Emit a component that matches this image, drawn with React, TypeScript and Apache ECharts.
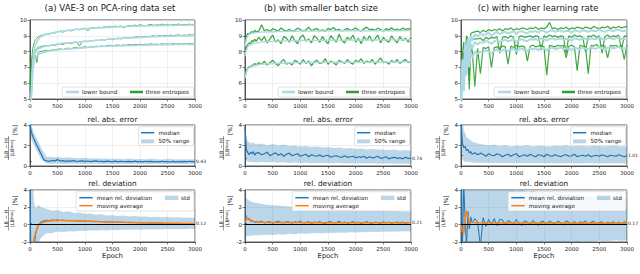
import React, { useEffect, useRef } from "react";
import * as echarts from "echarts";

// ---------- data ----------
const EP = [0, 25, 50, 75, 100, 125, 150, 175, 200, 250,
  300, 350, 400, 450, 500, 550, 600, 650, 700, 750,
  800, 850, 900, 950, 1000, 1050, 1100, 1150, 1200, 1250,
  1300, 1350, 1400, 1450, 1500, 1550, 1600, 1650, 1700, 1750,
  1800, 1850, 1900, 1950, 2000, 2050, 2100, 2150, 2200, 2250,
  2300, 2350, 2400, 2450, 2500, 2550, 2600, 2650, 2700, 2750,
  2800, 2850, 2900, 2950, 3000];
const EB = [0, 25, 50, 75, 100, 150, 200, 300, 400, 500,
  600, 700, 800, 900, 1000, 1100, 1200, 1300, 1400, 1500,
  1600, 1700, 1800, 1900, 2000, 2100, 2200, 2300, 2400, 2500,
  2600, 2700, 2800, 2900, 3000];
const ES = [0, 25, 50, 75, 100, 150, 200, 300, 500, 750, 1000, 1500, 2000, 2500, 3000];

// (a) three entropies
const A1 = [6.0, 7.4, 8.2, 8.55, 8.75, 8.85, 8.93, 8.97, 9.02, 9.06,
  9.12, 9.1, 9.2, 9.17, 9.26, 9.3, 9.22, 9.33, 9.36, 9.3,
  9.4, 9.42, 9.38, 9.45, 9.48, 9.3, 9.5, 9.52, 9.47, 9.55,
  9.5, 9.58, 9.55, 9.6, 9.57, 9.62, 9.58, 9.63, 9.5, 9.6,
  9.65, 9.62, 9.68, 9.64, 9.7, 9.66, 9.63, 9.69, 9.72, 9.66,
  9.7, 9.68, 9.74, 9.69, 9.71, 9.67, 9.73, 9.7, 9.75, 9.68,
  9.72, 9.7, 9.74, 9.69, 9.72];
const A2 = [5.8, 7.0, 7.7, 7.95, 8.1, 8.2, 8.28, 8.3, 8.33, 8.36,
  8.38, 8.35, 8.42, 8.4, 8.45, 8.5, 8.44, 8.52, 8.55, 8.5,
  8.58, 8.6, 8.35, 8.64, 8.66, 8.62, 8.7, 8.68, 8.73, 8.7,
  8.76, 8.72, 8.78, 8.8, 8.75, 8.82, 8.85, 8.8, 8.86, 8.88,
  8.9, 8.86, 8.92, 8.95, 8.9, 8.94, 8.97, 8.93, 8.98, 9.0,
  8.96, 9.02, 8.98, 9.03, 9.0, 9.05, 9.01, 9.04, 9.06, 9.02,
  9.05, 9.03, 9.07, 9.04, 9.06];
const A3 = [5.5, 6.7, 7.3, 7.55, 7.75, 7.3, 7.95, 8.0, 8.02, 8.05,
  8.08, 8.05, 8.12, 8.1, 8.15, 8.18, 8.12, 8.2, 8.22, 8.18,
  8.25, 8.27, 8.22, 8.28, 8.3, 8.26, 8.32, 8.3, 8.35, 8.32,
  8.36, 8.33, 8.38, 8.4, 8.36, 8.4, 8.42, 8.38, 8.43, 8.4,
  8.45, 8.42, 8.46, 8.44, 8.47, 8.43, 8.48, 8.45, 8.5, 8.46,
  8.48, 8.45, 8.5, 8.47, 8.49, 8.46, 8.51, 8.48, 8.5, 8.47,
  8.5, 8.48, 8.52, 8.49, 8.5];
// (a) lower bounds
const LA1 = [3.0, 5.5, 7.3, 8.0, 8.4, 8.75, 8.95, 9.1, 9.25, 9.36, 9.45, 9.55, 9.62, 9.66, 9.68];
const LA2 = [3.0, 5.3, 7.0, 7.7, 7.95, 8.15, 8.25, 8.35, 8.48, 8.57, 8.65, 8.8, 8.9, 8.97, 9.0];
const LA3 = [3.0, 5.0, 6.6, 7.3, 7.6, 7.8, 7.9, 8.0, 8.1, 8.18, 8.25, 8.35, 8.4, 8.44, 8.46];

// (b) three entropies
const B1 = [8.5, 8.95, 9.15, 9.1, 9.2, 9.28, 9.18, 9.35, 9.25, 9.3,
  9.7, 9.32, 9.4, 9.27, 9.45, 9.38, 9.3, 9.5, 9.36, 9.3,
  9.42, 9.28, 9.35, 9.48, 9.4, 9.3, 9.37, 9.55, 9.33, 9.4,
  9.45, 9.32, 9.38, 9.28, 9.46, 9.4, 9.52, 9.35, 9.42, 9.3,
  9.38, 9.47, 9.33, 9.4, 9.5, 9.36, 9.3, 9.44, 9.55, 9.38,
  9.42, 9.35, 9.48, 9.4, 9.3, 9.45, 9.38, 9.5, 9.36, 9.43,
  9.35, 9.48, 9.4, 9.45, 9.4];
const B2 = [7.8, 8.3, 8.45, 8.55, 8.5, 8.7, 8.6, 8.8, 8.65, 8.9,
  8.7, 8.95, 8.55, 8.8, 9.05, 8.6, 8.75, 8.5, 8.95, 8.85,
  8.6, 9.0, 8.7, 8.5, 8.9, 9.05, 8.65, 8.8, 8.55, 9.0,
  8.85, 8.6, 8.95, 8.7, 8.5, 9.0, 8.8, 8.6, 9.1, 8.7,
  8.55, 8.9, 8.75, 9.05, 8.6, 8.85, 8.5, 8.95, 8.7, 9.0,
  8.65, 8.8, 9.05, 8.55, 8.9, 8.7, 8.6, 9.0, 8.75, 8.55,
  8.95, 8.7, 8.85, 8.6, 8.9];
const B3 = [6.3, 6.8, 6.95, 7.05, 7.0, 7.15, 7.1, 7.25, 7.15, 7.3,
  7.2, 7.4, 7.15, 7.3, 7.45, 7.25, 7.1, 7.35, 7.5, 7.2,
  7.3, 7.15, 7.45, 7.35, 7.2, 7.5, 7.25, 7.4, 7.1, 7.35,
  7.45, 7.25, 7.3, 7.55, 7.2, 7.4, 7.3, 7.15, 7.45, 7.35,
  7.25, 7.5, 7.3, 7.2, 7.45, 7.35, 7.55, 7.25, 7.4, 7.3,
  7.5, 7.2, 7.4, 7.6, 7.3, 7.35, 7.2, 7.45, 7.3, 7.5,
  7.25, 7.4, 7.5, 7.3, 7.4];
// (b) lower bounds
const LB1 = [8.3, 8.8, 9.0, 9.08, 9.12, 9.17, 9.2, 9.23, 9.26, 9.28, 9.3, 9.31, 9.32, 9.32, 9.33];
const LB2 = [7.7, 8.1, 8.3, 8.38, 8.43, 8.5, 8.54, 8.6, 8.65, 8.68, 8.7, 8.72, 8.73, 8.74, 8.75];
const LB3 = [6.3, 6.7, 6.9, 6.98, 7.03, 7.1, 7.14, 7.2, 7.25, 7.28, 7.3, 7.32, 7.33, 7.34, 7.35];

// (c) three entropies
const C1 = [5.5, 7.8, 8.6, 7.6, 9.0, 8.8, 6.1, 9.1, 9.2, 9.25,
  9.3, 9.2, 9.35, 9.25, 9.4, 9.3, 9.4, 9.35, 9.45, 9.3,
  9.45, 9.4, 9.5, 9.35, 9.45, 9.4, 9.5, 9.45, 9.4, 9.5,
  9.45, 9.55, 9.4, 9.5, 9.45, 9.55, 9.85, 9.45, 9.5, 9.4,
  9.5, 9.45, 9.55, 9.4, 9.5, 9.45, 9.55, 9.5, 9.45, 9.55,
  9.5, 9.45, 9.6, 9.5, 9.45, 9.55, 9.5, 9.6, 9.45, 9.55,
  9.5, 9.6, 9.5, 9.55, 9.6];
const C2 = [5.2, 7.0, 7.9, 8.2, 8.45, 8.55, 8.6, 8.7, 8.75, 8.8,
  8.8, 8.85, 8.7, 8.9, 8.8, 8.9, 8.85, 8.95, 7.9, 8.9,
  8.95, 8.85, 9.0, 8.9, 7.8, 8.95, 9.0, 8.9, 8.95, 9.0,
  8.9, 9.0, 8.95, 8.1, 9.0, 8.9, 9.05, 8.95, 9.0, 8.9,
  9.0, 8.95, 7.9, 9.0, 8.9, 9.05, 8.95, 9.0, 8.9, 8.0,
  9.0, 8.95, 9.05, 8.9, 9.0, 7.9, 8.95, 9.05, 8.9, 9.0,
  8.95, 9.05, 8.1, 9.0, 8.95];
const C3 = [5.0, 6.5, 7.4, 6.5, 7.9, 8.0, 5.6, 8.1, 8.15, 5.8,
  8.2, 6.6, 8.25, 8.2, 8.3, 7.0, 8.25, 8.3, 8.2, 8.35,
  8.3, 7.2, 8.35, 8.25, 8.4, 8.3, 8.35, 8.3, 7.4, 8.35,
  8.4, 8.3, 8.35, 8.4, 8.3, 6.5, 8.4, 8.35, 8.3, 8.4,
  8.35, 8.4, 7.6, 8.35, 8.4, 8.3, 6.8, 8.4, 8.35, 8.3,
  6.6, 8.4, 8.35, 8.45, 8.3, 8.4, 8.35, 7.6, 8.4, 8.35,
  8.4, 8.3, 8.4, 7.5, 8.4];
// (c) lower bounds
const LC1 = [5.0, 7.5, 6.5, 8.5, 7.8, 8.8, 8.0, 9.0, 8.7, 9.1,
  8.95, 9.15, 9.05, 9.1, 9.2, 9.0, 9.15, 9.25, 9.1, 9.2,
  9.25, 9.15, 9.2, 9.3, 9.1, 9.25, 9.3, 9.2, 9.15, 9.3,
  9.25, 9.3, 9.2, 9.35, 9.3, 9.2, 9.3, 9.35, 9.25, 9.3,
  9.35, 9.25, 9.3, 9.3, 9.2, 9.35, 9.3, 9.25, 9.35, 9.3,
  9.25, 9.35, 9.3, 9.3, 9.4, 9.3, 9.25, 9.35, 9.35, 9.3,
  9.35, 9.4, 9.3, 9.3, 9.35];
const LC2 = [4.8, 6.8, 6.0, 7.8, 7.0, 8.3, 7.5, 8.5, 8.2, 8.6,
  8.45, 8.6, 8.55, 8.7, 8.6, 8.5, 8.65, 8.75, 8.6, 8.7,
  8.75, 8.65, 8.7, 8.8, 8.6, 8.75, 8.8, 8.7, 8.65, 8.8,
  8.75, 8.8, 8.7, 8.85, 8.8, 8.7, 8.8, 8.85, 8.75, 8.8,
  8.85, 8.75, 8.8, 8.8, 8.7, 8.85, 8.8, 8.75, 8.85, 8.8,
  8.75, 8.85, 8.8, 8.8, 8.9, 8.8, 8.75, 8.85, 8.85, 8.8,
  8.85, 8.9, 8.8, 8.8, 8.85];
const LC3 = [4.6, 6.2, 5.5, 7.2, 6.5, 7.7, 7.0, 7.9, 7.6, 8.0,
  7.85, 8.0, 7.95, 8.1, 8.0, 7.9, 8.05, 8.15, 8.0, 8.1,
  8.15, 8.05, 8.1, 8.2, 8.0, 8.15, 8.2, 8.1, 8.05, 8.2,
  8.15, 8.2, 8.1, 8.25, 8.2, 8.1, 8.2, 8.25, 8.15, 8.2,
  8.25, 8.15, 8.2, 8.2, 8.1, 8.25, 8.2, 8.15, 8.25, 8.2,
  8.15, 8.25, 8.2, 8.2, 8.3, 8.2, 8.15, 8.25, 8.25, 8.2,
  8.25, 8.3, 8.2, 8.2, 8.25];

// rel. abs. error: medians (EP) and 50% range (EB)
const MED_A = [4.0, 3.3, 2.9, 2.6, 2.3, 2.0, 1.75, 1.45, 1.2, 0.6,
  0.5, 0.46, 0.54, 0.5, 0.62, 0.48, 0.52, 0.45, 0.5, 0.47,
  0.52, 0.44, 0.48, 0.5, 0.45, 0.49, 0.43, 0.47, 0.5, 0.44,
  0.46, 0.42, 0.48, 0.45, 0.43, 0.47, 0.41, 0.46, 0.44, 0.42,
  0.45, 0.41, 0.47, 0.43, 0.44, 0.4, 0.46, 0.42, 0.45, 0.41,
  0.44, 0.4, 0.46, 0.42, 0.43, 0.39, 0.45, 0.41, 0.44, 0.4,
  0.45, 0.41, 0.46, 0.42, 0.43];
const Q_A_LO = [3.0, 2.6, 2.3, 2.0, 1.7, 1.2, 0.7, 0.25, 0.22, 0.24,
  0.2, 0.23, 0.21, 0.22, 0.2, 0.23, 0.21, 0.2, 0.22, 0.2,
  0.21, 0.19, 0.22, 0.2, 0.21, 0.19, 0.2, 0.22, 0.19, 0.2,
  0.21, 0.19, 0.2, 0.22, 0.2];
const Q_A_HI = [4.5, 4.0, 3.6, 3.2, 2.9, 2.4, 1.8, 0.9, 0.85, 0.88,
  0.8, 0.85, 0.78, 0.75, 0.8, 0.72, 0.75, 0.7, 0.73, 0.68,
  0.7, 0.66, 0.72, 0.67, 0.68, 0.65, 0.7, 0.66, 0.64, 0.68,
  0.65, 0.63, 0.67, 0.64, 0.66];
const MED_B = [3.8, 1.6, 1.3, 1.1, 1.35, 1.2, 1.4, 1.05, 1.25, 1.3,
  1.1, 1.2, 1.35, 1.0, 1.15, 1.3, 1.05, 1.2, 0.95, 1.15,
  1.25, 1.0, 1.1, 1.2, 0.95, 1.05, 1.15, 0.9, 1.1, 1.0,
  0.95, 1.1, 0.9, 1.0, 1.05, 0.85, 0.95, 1.0, 0.9, 0.85,
  1.0, 0.85, 0.9, 0.95, 0.8, 0.9, 0.85, 0.95, 0.75, 0.9,
  0.8, 0.85, 0.95, 0.75, 0.8, 0.9, 0.7, 0.8, 0.85, 0.75,
  0.8, 0.7, 0.85, 0.75, 0.74];
const Q_B_LO = [1.0, 0.5, 0.45, 0.4, 0.4, 0.38, 0.35, 0.4, 0.35, 0.38,
  0.33, 0.36, 0.3, 0.34, 0.3, 0.32, 0.28, 0.3, 0.27, 0.3,
  0.26, 0.29, 0.25, 0.28, 0.25, 0.27, 0.24, 0.26, 0.23, 0.25,
  0.24, 0.22, 0.25, 0.23, 0.22];
const Q_B_HI = [4.0, 2.8, 2.3, 2.4, 2.2, 2.3, 2.1, 2.2, 2.0, 2.15,
  2.0, 2.1, 1.95, 2.0, 1.9, 1.95, 1.85, 1.9, 1.8, 1.85,
  1.75, 1.8, 1.7, 1.75, 1.65, 1.7, 1.6, 1.65, 1.6, 1.62,
  1.55, 1.6, 1.52, 1.55, 1.5];
const MED_C = [4.5, 2.2, 1.8, 1.9, 1.5, 1.6, 1.3, 1.4, 1.15, 1.3,
  1.1, 1.25, 1.15, 0.95, 1.2, 1.05, 1.0, 1.2, 1.1, 0.9,
  1.05, 1.15, 0.95, 1.1, 1.2, 0.9, 1.0, 1.1, 0.95, 1.15,
  1.0, 0.9, 1.1, 1.05, 0.9, 1.15, 1.0, 0.95, 1.1, 1.0,
  0.9, 1.05, 1.1, 0.95, 1.0, 1.15, 0.9, 1.0, 1.05, 0.95,
  1.1, 0.9, 1.0, 1.05, 0.95, 1.1, 1.0, 0.9, 1.05, 1.0,
  0.95, 1.1, 1.0, 0.9, 1.01];
const Q_C_LO = [1.5, 0.6, 0.5, 0.45, 0.4, 0.38, 0.35, 0.32, 0.3, 0.32,
  0.3, 0.28, 0.3, 0.27, 0.29, 0.27, 0.28, 0.26, 0.28, 0.27,
  0.26, 0.28, 0.25, 0.27, 0.26, 0.25, 0.27, 0.26, 0.25, 0.27,
  0.25, 0.26, 0.25, 0.26, 0.25];
const Q_C_HI = [5.0, 4.5, 3.5, 3.2, 2.8, 2.6, 2.4, 2.2, 2.1, 2.0,
  2.1, 1.95, 2.05, 1.9, 2.0, 1.95, 2.05, 1.9, 2.0, 1.95,
  1.9, 2.0, 1.95, 2.05, 1.9, 2.0, 1.95, 1.9, 2.0, 1.95,
  1.9, 2.0, 1.95, 1.9, 1.95];

// rel. deviation: mean (EP), moving average and std range (EB)
const DEV_A = [8, -12, -6, -2.5, -1.2, -0.45, -0.05, 0.2, 0.32, 0.44,
  0.5, 0.47, 0.54, 0.5, 0.55, 0.48, 0.52, 0.47, 0.5, 0.46,
  0.47, 0.43, 0.45, 0.41, 0.43, 0.39, 0.4, 0.36, 0.38, 0.35,
  0.36, 0.32, 0.34, 0.3, 0.32, 0.28, 0.3, 0.27, 0.29, 0.25,
  0.27, 0.23, 0.25, 0.21, 0.23, 0.2, 0.22, 0.18, 0.2, 0.17,
  0.19, 0.15, 0.17, 0.14, 0.16, 0.13, 0.15, 0.12, 0.14, 0.12,
  0.13, 0.11, 0.13, 0.11, 0.12];
const MA_A = [-8, -4.5, -2.5, -1.6, -1.0, -0.1, 0.2, 0.4, 0.45, 0.47,
  0.47, 0.46, 0.44, 0.42, 0.4, 0.38, 0.36, 0.34, 0.32, 0.3,
  0.29, 0.27, 0.26, 0.24, 0.23, 0.21, 0.2, 0.19, 0.18, 0.17,
  0.16, 0.15, 0.14, 0.13, 0.12];
const STD_A_LO = [-20, -15, -8, -5, -3.5, -2.2, -1.5, -1.0, -0.95, -0.8,
  -0.85, -0.75, -0.8, -0.7, -0.72, -0.65, -0.7, -0.62, -0.66, -0.6,
  -0.63, -0.58, -0.6, -0.56, -0.58, -0.54, -0.56, -0.52, -0.55, -0.5,
  -0.53, -0.49, -0.52, -0.48, -0.5];
const STD_A_HI = [20, 10, 5, 2.6, 1.9, 2.3, 2.0, 1.85, 1.6, 1.7,
  1.45, 1.55, 1.35, 1.4, 1.25, 1.3, 1.15, 1.2, 1.05, 1.1,
  1.0, 1.05, 0.95, 1.0, 0.9, 0.95, 0.88, 0.92, 0.85, 0.88,
  0.82, 0.86, 0.8, 0.83, 0.78];
const DEV_B = [1.3, 0.9, 0.7, 0.55, 0.45, 0.35, 0.4, 0.25, 0.35, 0.3,
  0.4, 0.2, 0.3, 0.35, 0.15, 0.3, 0.4, 0.25, 0.2, 0.35,
  0.3, 0.15, 0.35, 0.25, 0.4, 0.2, 0.25, 0.35, 0.1, 0.3,
  0.25, 0.35, 0.2, 0.15, 0.3, 0.35, 0.2, 0.25, 0.4, 0.2,
  0.3, 0.15, 0.25, 0.35, 0.2, 0.3, 0.1, 0.25, 0.35, 0.2,
  0.15, 0.3, 0.25, 0.1, 0.35, 0.2, 0.3, 0.15, 0.25, 0.3,
  0.2, 0.3, 0.15, 0.25, 0.22];
const MA_B = [0.3, 0.55, 0.75, 0.7, 0.55, 0.38, 0.32, 0.28, 0.26, 0.25,
  0.25, 0.24, 0.25, 0.24, 0.24, 0.23, 0.24, 0.23, 0.23, 0.22,
  0.23, 0.22, 0.22, 0.22, 0.21, 0.22, 0.21, 0.21, 0.22, 0.21,
  0.21, 0.21, 0.2, 0.21, 0.21];
const STD_B_LO = [-1.4, -1.3, -1.35, -1.25, -1.3, -1.2, -1.25, -1.2, -1.15, -1.2,
  -1.1, -1.15, -1.05, -1.1, -1.0, -1.05, -1.0, -0.95, -1.0, -0.92,
  -0.95, -0.9, -0.92, -0.88, -0.9, -0.85, -0.88, -0.82, -0.85, -0.8,
  -0.82, -0.78, -0.8, -0.76, -0.78];
const STD_B_HI = [3.4, 3.1, 2.9, 2.8, 2.7, 2.6, 2.5, 2.4, 2.3, 2.25,
  2.2, 2.15, 2.1, 2.0, 2.05, 1.95, 1.98, 1.9, 1.92, 1.85,
  1.85, 1.8, 1.78, 1.75, 1.72, 1.7, 1.68, 1.65, 1.62, 1.6,
  1.58, 1.55, 1.55, 1.52, 1.5];
const DEV_C = [10, -2.5, 4.5, 0.6, -2.5, 1.5, -0.5, 0.9, 0.2, 0.7,
  0.3, -2.5, 0.8, -0.2, 0.6, 0.0, 0.7, -0.1, 0.6, 0.55,
  -0.05, 0.5, 0.3, 0.1, 0.6, 0.2, -0.1, 0.45, 0.3, 0.05,
  0.5, 0.2, -0.1, 0.4, 0.35, 0.0, 0.45, 0.2, 0.1, 0.4,
  0.25, -0.05, 0.45, 0.3, 0.1, 0.4, 0.0, 0.35, 0.2, 0.45,
  0.05, 0.3, 0.4, 0.1, 0.25, 0.35, 0.0, 0.3, 0.15, 0.35,
  0.1, 0.3, 0.05, 0.35, 0.17];
const MA_C = [0.0, -0.8, -1.0, 0.5, 1.6, 0.3, 0.25, 0.22, 0.2, 0.22,
  0.21, 0.2, 0.21, 0.2, 0.2, 0.19, 0.2, 0.19, 0.19, 0.18,
  0.19, 0.18, 0.18, 0.18, 0.17, 0.18, 0.17, 0.17, 0.18, 0.17,
  0.17, 0.17, 0.16, 0.17, 0.17];
const STD_C_LO = [-20, -10, -6, -5, -4, -3.5, -3, -2.8, -2.6, -2.5,
  -2.4, -2.5, -2.3, -2.4, -2.2, -2.3, -2.2, -2.1, -2.2, -2.1,
  -2.05, -2.1, -2.0, -2.05, -1.95, -2.0, -1.9, -1.95, -1.9, -1.85,
  -1.9, -1.85, -1.8, -1.85, -1.8];
const STD_C_HI = [20, 10, 8, 6, 5.5, 5, 4.8, 4.5, 4.4, 4.3,
  4.2, 4.1, 4.0, 4.1, 3.9, 4.0, 3.8, 3.9, 3.7, 3.8,
  3.6, 3.7, 3.5, 3.6, 3.4, 3.5, 3.3, 3.4, 3.2, 3.3,
  3.1, 3.2, 3.0, 3.1, 3.0];

const ERR_END = [0.43, 0.74, 1.01];
const DEV_END = [0.12, 0.21, 0.17];

const TITLES = ["(a) VAE-3 on PCA-ring data set", "(b) with smaller batch size", "(c) with higher learning rate"];
const ROW_TITLES = ["rel. abs. error", "rel. deviation"];

// ---------- styling / layout ----------
const FONT = "DejaVu Sans";
const BLUE = "#1f77b4";
const ORANGE = "#ff7f0e";
const GREEN = "#2ca02c";
const LIGHT = "#add8e6";
const BAND = "rgba(31,119,180,0.3)";
const COLS = [{ l: 30, w: 165 }, { l: 245, w: 166 }, { l: 461, w: 166 }];
const ROWS = [{ t: 20, h: 79 }, { t: 125, h: 41 }, { t: 190, h: 52 }];
const YR = [{ min: 5, max: 10, interval: 1 }, { min: 0, max: 4, interval: 2 }, { min: -2, max: 4, interval: 2 }];
const TITLE_X = [110, 321, 538];

const pts = (xs: number[], ys: number[]) => xs.map((x, i) => [x, ys[i]]);

function lineS(g: number, xs: number[], ys: number[], color: string, width: number, extra: any = {}) {
  return {
    type: "line", xAxisIndex: g, yAxisIndex: g, data: pts(xs, ys), symbol: "none", showSymbol: false,
    silent: true, clip: true, lineStyle: { color, width }, itemStyle: { color }, ...extra,
  };
}

function bandS(g: number, xs: number[], lo: number[], hi: number[], color: string) {
  return {
    type: "custom", xAxisIndex: g, yAxisIndex: g, silent: true, clip: true,
    data: xs.map((x, i) => [x, lo[i], hi[i]]),
    encode: { x: 0, y: [1, 2] },
    renderItem: (params: any, api: any) => {
      if (params.dataIndex !== 0) return null;
      const up = xs.map((x, i) => api.coord([x, hi[i]]));
      const dn = xs.map((x, i) => api.coord([x, lo[i]])).reverse();
      return { type: "polygon", shape: { points: up.concat(dn) }, style: { fill: color } };
    },
  };
}

function txt(x: number, y: number, text: string, size: number, align = "left", valign = "middle", extra: any = {}) {
  return {
    type: "text", x, y, z: 100, silent: true,
    style: { text, fontSize: size, fontFamily: FONT, fill: "#1a1a1a", align, verticalAlign: valign, textAlign: align, textVerticalAlign: valign, ...extra },
  };
}

function buildOption() {
  const grid: any[] = [];
  const xAxis: any[] = [];
  const yAxis: any[] = [];
  for (let r = 0; r < 3; r++) {
    for (let c = 0; c < 3; c++) {
      const g = r * 3 + c;
      grid.push({
        left: COLS[c].l, top: ROWS[r].t, width: COLS[c].w, height: ROWS[r].h,
        show: true, borderColor: "#333", borderWidth: 0.8, backgroundColor: "transparent",
        containLabel: false, outerBoundsMode: "none",
      });
      xAxis.push({
        gridIndex: g, type: "value", min: 0, max: 3000, interval: 500,
        axisLine: { show: true, onZero: false, lineStyle: { color: "#333", width: 0.8 } },
        axisTick: { show: true, length: 2.5, lineStyle: { color: "#333", width: 0.6 } },
        axisLabel: { fontSize: 5.5, margin: 3.5, color: "#1a1a1a", fontFamily: FONT, showMaxLabel: true, showMinLabel: true, formatter: (v: number) => String(v) },
        splitLine: { show: true, lineStyle: { color: "#e4e4e4", width: 0.6 } },
        ...(r === 2 ? { name: "Epoch", nameLocation: "middle", nameGap: 10, nameTextStyle: { fontSize: 6.8, color: "#1a1a1a", fontFamily: FONT } } : {}),
      });
      yAxis.push({
        gridIndex: g, type: "value", ...YR[r],
        axisLine: { show: true, onZero: false, lineStyle: { color: "#333", width: 0.8 } },
        axisTick: { show: true, length: 2.5, lineStyle: { color: "#333", width: 0.6 } },
        axisLabel: { fontSize: 5.5, margin: 3, color: "#1a1a1a", fontFamily: FONT, formatter: (v: number) => String(v) },
        splitLine: { show: true, lineStyle: { color: "#e4e4e4", width: 0.6 } },
      });
    }
  }
  // end-value annotations on the right side of rows 2 and 3
  for (let r = 1; r < 3; r++) {
    for (let c = 0; c < 3; c++) {
      const g = r * 3 + c;
      const v = r === 1 ? ERR_END[c] : DEV_END[c];
      yAxis.push({
        gridIndex: g, type: "value", position: "right", ...YR[r],
        axisLine: { show: false }, splitLine: { show: false },
        axisTick: { show: true, length: 2, customValues: [v], lineStyle: { color: "#333", width: 0.6 } },
        axisLabel: { show: true, customValues: [v], fontSize: 4.5, margin: 1, color: "#1a1a1a", fontFamily: FONT, formatter: (val: number) => val.toFixed(2) },
      });
    }
  }

  const series: any[] = [];
  // row 1
  const ent = [[A1, A2, A3], [B1, B2, B3], [C1, C2, C3]];
  const lbs = [[LA1, LA2, LA3], [LB1, LB2, LB3], [LC1, LC2, LC3]];
  const greenW = [0.9, 1.3, 1.2];
  const blueW = [1.6, 1.4, 2.0];
  for (let c = 0; c < 3; c++) {
    ent[c].forEach((arr) => series.push(lineS(c, EP, arr, GREEN, greenW[c], { name: "three entropies", lineStyle: { color: GREEN, width: greenW[c], opacity: 0.9 } })));
    const xs = c === 2 ? EP : ES;
    lbs[c].forEach((arr) => series.push(lineS(c, xs, arr, LIGHT, blueW[c], { name: "lower bound", smooth: c === 2 ? false : 0.3 })));
  }
  // row 2
  const meds = [MED_A, MED_B, MED_C];
  const qlo = [Q_A_LO, Q_B_LO, Q_C_LO];
  const qhi = [Q_A_HI, Q_B_HI, Q_C_HI];
  for (let c = 0; c < 3; c++) {
    const g = 3 + c;
    series.push(bandS(g, EB, qlo[c], qhi[c], BAND));
    series.push(lineS(g, EP, meds[c], BLUE, 1.2, { name: "median" }));
  }
  // row 3
  const devs = [DEV_A, DEV_B, DEV_C];
  const mas = [MA_A, MA_B, MA_C];
  const slo = [STD_A_LO, STD_B_LO, STD_C_LO];
  const shi = [STD_A_HI, STD_B_HI, STD_C_HI];
  for (let c = 0; c < 3; c++) {
    const g = 6 + c;
    series.push(bandS(g, EB, slo[c], shi[c], BAND));
    series.push(lineS(g, EP, devs[c], BLUE, 1.0, {
      name: "mean rel. deviation",
      markLine: { silent: true, symbol: "none", label: { show: false }, lineStyle: { color: "#000", width: 1.2, type: "solid" }, data: [{ yAxis: 0 }] },
    }));
    series.push(lineS(g, EB, mas[c], ORANGE, 1.5, { name: "moving average" }));
  }

  // graphics: titles, y-labels, legends
  const graphic: any[] = [];
  TITLES.forEach((t, c) => graphic.push(txt(TITLE_X[c], 8, t, 8.6, "center")));
  for (let c = 0; c < 3; c++) {
    const cx = COLS[c].l + COLS[c].w / 2;
    graphic.push(txt(cx, 119.5, ROW_TITLES[0], 7.4, "center"));
    graphic.push(txt(cx, 183.5, ROW_TITLES[1], 7.4, "center"));
  }
  for (let r = 1; r < 3; r++) {
    for (let c = 0; c < 3; c++) {
      const num = r === 1 ? "|LB − H|" : "LB − H";
      graphic.push({
        type: "group", x: COLS[c].l - 21.5, y: ROWS[r].t + ROWS[r].h / 2 + 2.5, rotation: Math.PI / 2, z: 100, silent: true,
        children: [
          txt(0, -0.5, num, 5, "center", "bottom"),
          { type: "line", z: 100, shape: { x1: -12, y1: 0, x2: 12, y2: 0 }, style: { stroke: "#222", lineWidth: 0.45 } },
          txt(0, 0.5, "{n||LB}{s|true}{n||}", 5, "center", "top", { rich: { n: { fontSize: 5, fontFamily: FONT, fill: "#1a1a1a" }, s: { fontSize: 3.5, fontFamily: FONT, fill: "#1a1a1a" } } }),
          txt(18, 6.5, "[%]", 5.8, "center", "middle"),
        ],
      });
    }
  }
  const box = (x: number, y: number, w: number, h: number) => ({
    type: "rect", z: 99, silent: true, shape: { x, y, width: w, height: h, r: 2 },
    style: { fill: "rgba(255,255,255,0.85)", stroke: "#cccccc", lineWidth: 0.6 },
  });
  const seg = (x1: number, x2: number, y: number, color: string, w: number) => ({
    type: "line", z: 100, silent: true, shape: { x1, y1: y, x2, y2: y }, style: { stroke: color, lineWidth: w },
  });
  const patch = (x: number, y: number, w: number, h: number) => ({
    type: "rect", z: 100, silent: true, shape: { x, y, width: w, height: h }, style: { fill: BAND },
  });
  for (let c = 0; c < 3; c++) {
    const right = COLS[c].l + COLS[c].w;
    {
      const w = 131.5, h = 10;
      const L = right - 1.5 - w, T = ROWS[0].t + ROWS[0].h - 12;
      graphic.push(box(L, T, w, h));
      graphic.push(seg(L + 4, L + 17, T + 5, LIGHT, 2.5));
      graphic.push(txt(L + 20, T + 5, "lower bound", 5.7));
      graphic.push(seg(L + 68, L + 81, T + 5, GREEN, 2.5));
      graphic.push(txt(L + 83.5, T + 5, "three entropies", 5.7));
    }
    {
      const w = 55, h = 19;
      const L = right - 1.5 - w, T = ROWS[1].t + 1.7;
      graphic.push(box(L, T, w, h));
      graphic.push(seg(L + 2.5, L + 15.7, T + 6, BLUE, 1.5));
      graphic.push(txt(L + 20, T + 6, "median", 5.7));
      graphic.push(patch(L + 2.5, T + 12.6, 13.2, 4));
      graphic.push(txt(L + 20, T + 14.4, "50% range", 5.7));
    }
    {
      const w = 118, h = 19.3;
      const L = right - 1 - w, T = ROWS[2].t + 1.7;
      graphic.push(box(L, T, w, h));
      graphic.push(seg(L + 3.3, L + 16.7, T + 6, BLUE, 1.5));
      graphic.push(txt(L + 20.7, T + 6, "mean rel. deviation", 5.7));
      graphic.push(seg(L + 3.3, L + 16.7, T + 14, ORANGE, 1.5));
      graphic.push(txt(L + 20.7, T + 14, "moving average", 5.7));
      graphic.push(patch(L + 89, T + 4, 13.3, 4.3));
      graphic.push(txt(L + 105, T + 6, "std", 5.7));
    }
  }

  return {
    animation: false,
    backgroundColor: "#ffffff",
    textStyle: { fontFamily: FONT },
    grid, xAxis, yAxis, series, graphic,
  };
}

export default function App() {
  const ref = useRef<HTMLDivElement>(null);
  useEffect(() => {
    if (!ref.current) return;
    const chart = echarts.init(ref.current, null, { renderer: "svg" });
    chart.setOption(buildOption() as any);
    return () => chart.dispose();
  }, []);
  return <div ref={ref} style={{ position: "absolute", left: 0, top: 0, width: 640, height: 274 }} />;
}
